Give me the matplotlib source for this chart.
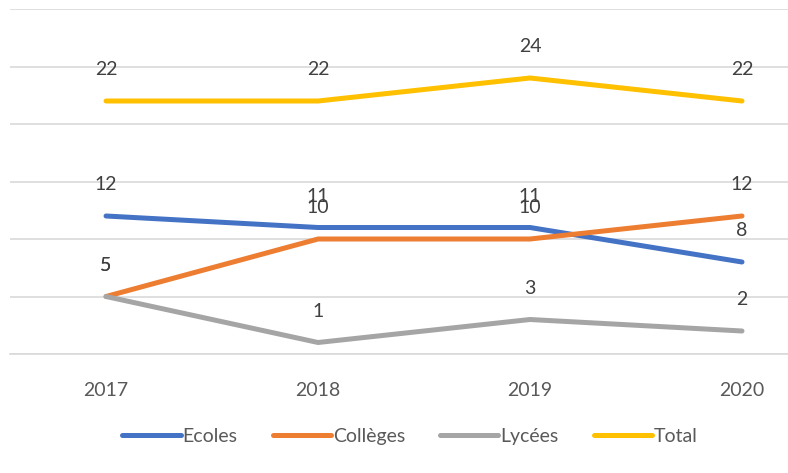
import matplotlib
matplotlib.use("Agg")
import matplotlib.pyplot as plt

years = ["2017", "2018", "2019", "2020"]
ecoles = [12, 11, 11, 8]
colleges = [5, 10, 10, 12]
lycees = [5, 1, 3, 2]
total = [22, 22, 24, 22]

series = [
    ("Ecoles", ecoles, "#4472C4"),
    ("Collèges", colleges, "#ED7D31"),
    ("Lycées", lycees, "#A5A5A5"),
    ("Total", total, "#FFC000"),
]

plt.rcParams["font.family"] = ["Lato", "DejaVu Sans"]

fig = plt.figure(figsize=(7.88, 4.73), dpi=100)
# plot area in pixel terms: x 10..788, y 9..354 (top-origin)
ax = fig.add_axes([10 / 788, (473 - 354) / 473, 778 / 788, 345 / 473])

x = list(range(len(years)))
for name, vals, col in series:
    ax.plot(x, vals, color=col, linewidth=3.6, solid_joinstyle="round",
            solid_capstyle="round", label=name, zorder=3)
    for xi, v in zip(x, vals):
        ax.annotate(str(v), (xi, v), xytext=(0, 22.5), textcoords="offset points",
                    ha="center", va="center", fontsize=14, color="#404040", zorder=4)

ax.set_ylim(0, 30)
ax.set_xlim(-0.453, 3.217)
ax.set_yticks(range(0, 31, 5))
ax.yaxis.grid(True, color="#D9D9D9", linewidth=1.2)
ax.set_axisbelow(True)
ax.tick_params(axis="y", left=False, labelleft=False)
ax.tick_params(axis="x", length=0, labelsize=14, labelcolor="#595959", pad=20)
ax.set_xticks(x)
ax.set_xticklabels(years)
for s in ["top", "right", "left"]:
    ax.spines[s].set_visible(False)
ax.spines["bottom"].set_color("#D9D9D9")
ax.spines["bottom"].set_linewidth(1.2)

fig.legend(loc="center", bbox_to_anchor=(410 / 788, 1 - 436 / 473), ncol=4,
           frameon=False, fontsize=14, handlelength=3.0, handletextpad=0.1,
           columnspacing=1.8, labelcolor="#595959")

fig.savefig("out.png", dpi=100)
